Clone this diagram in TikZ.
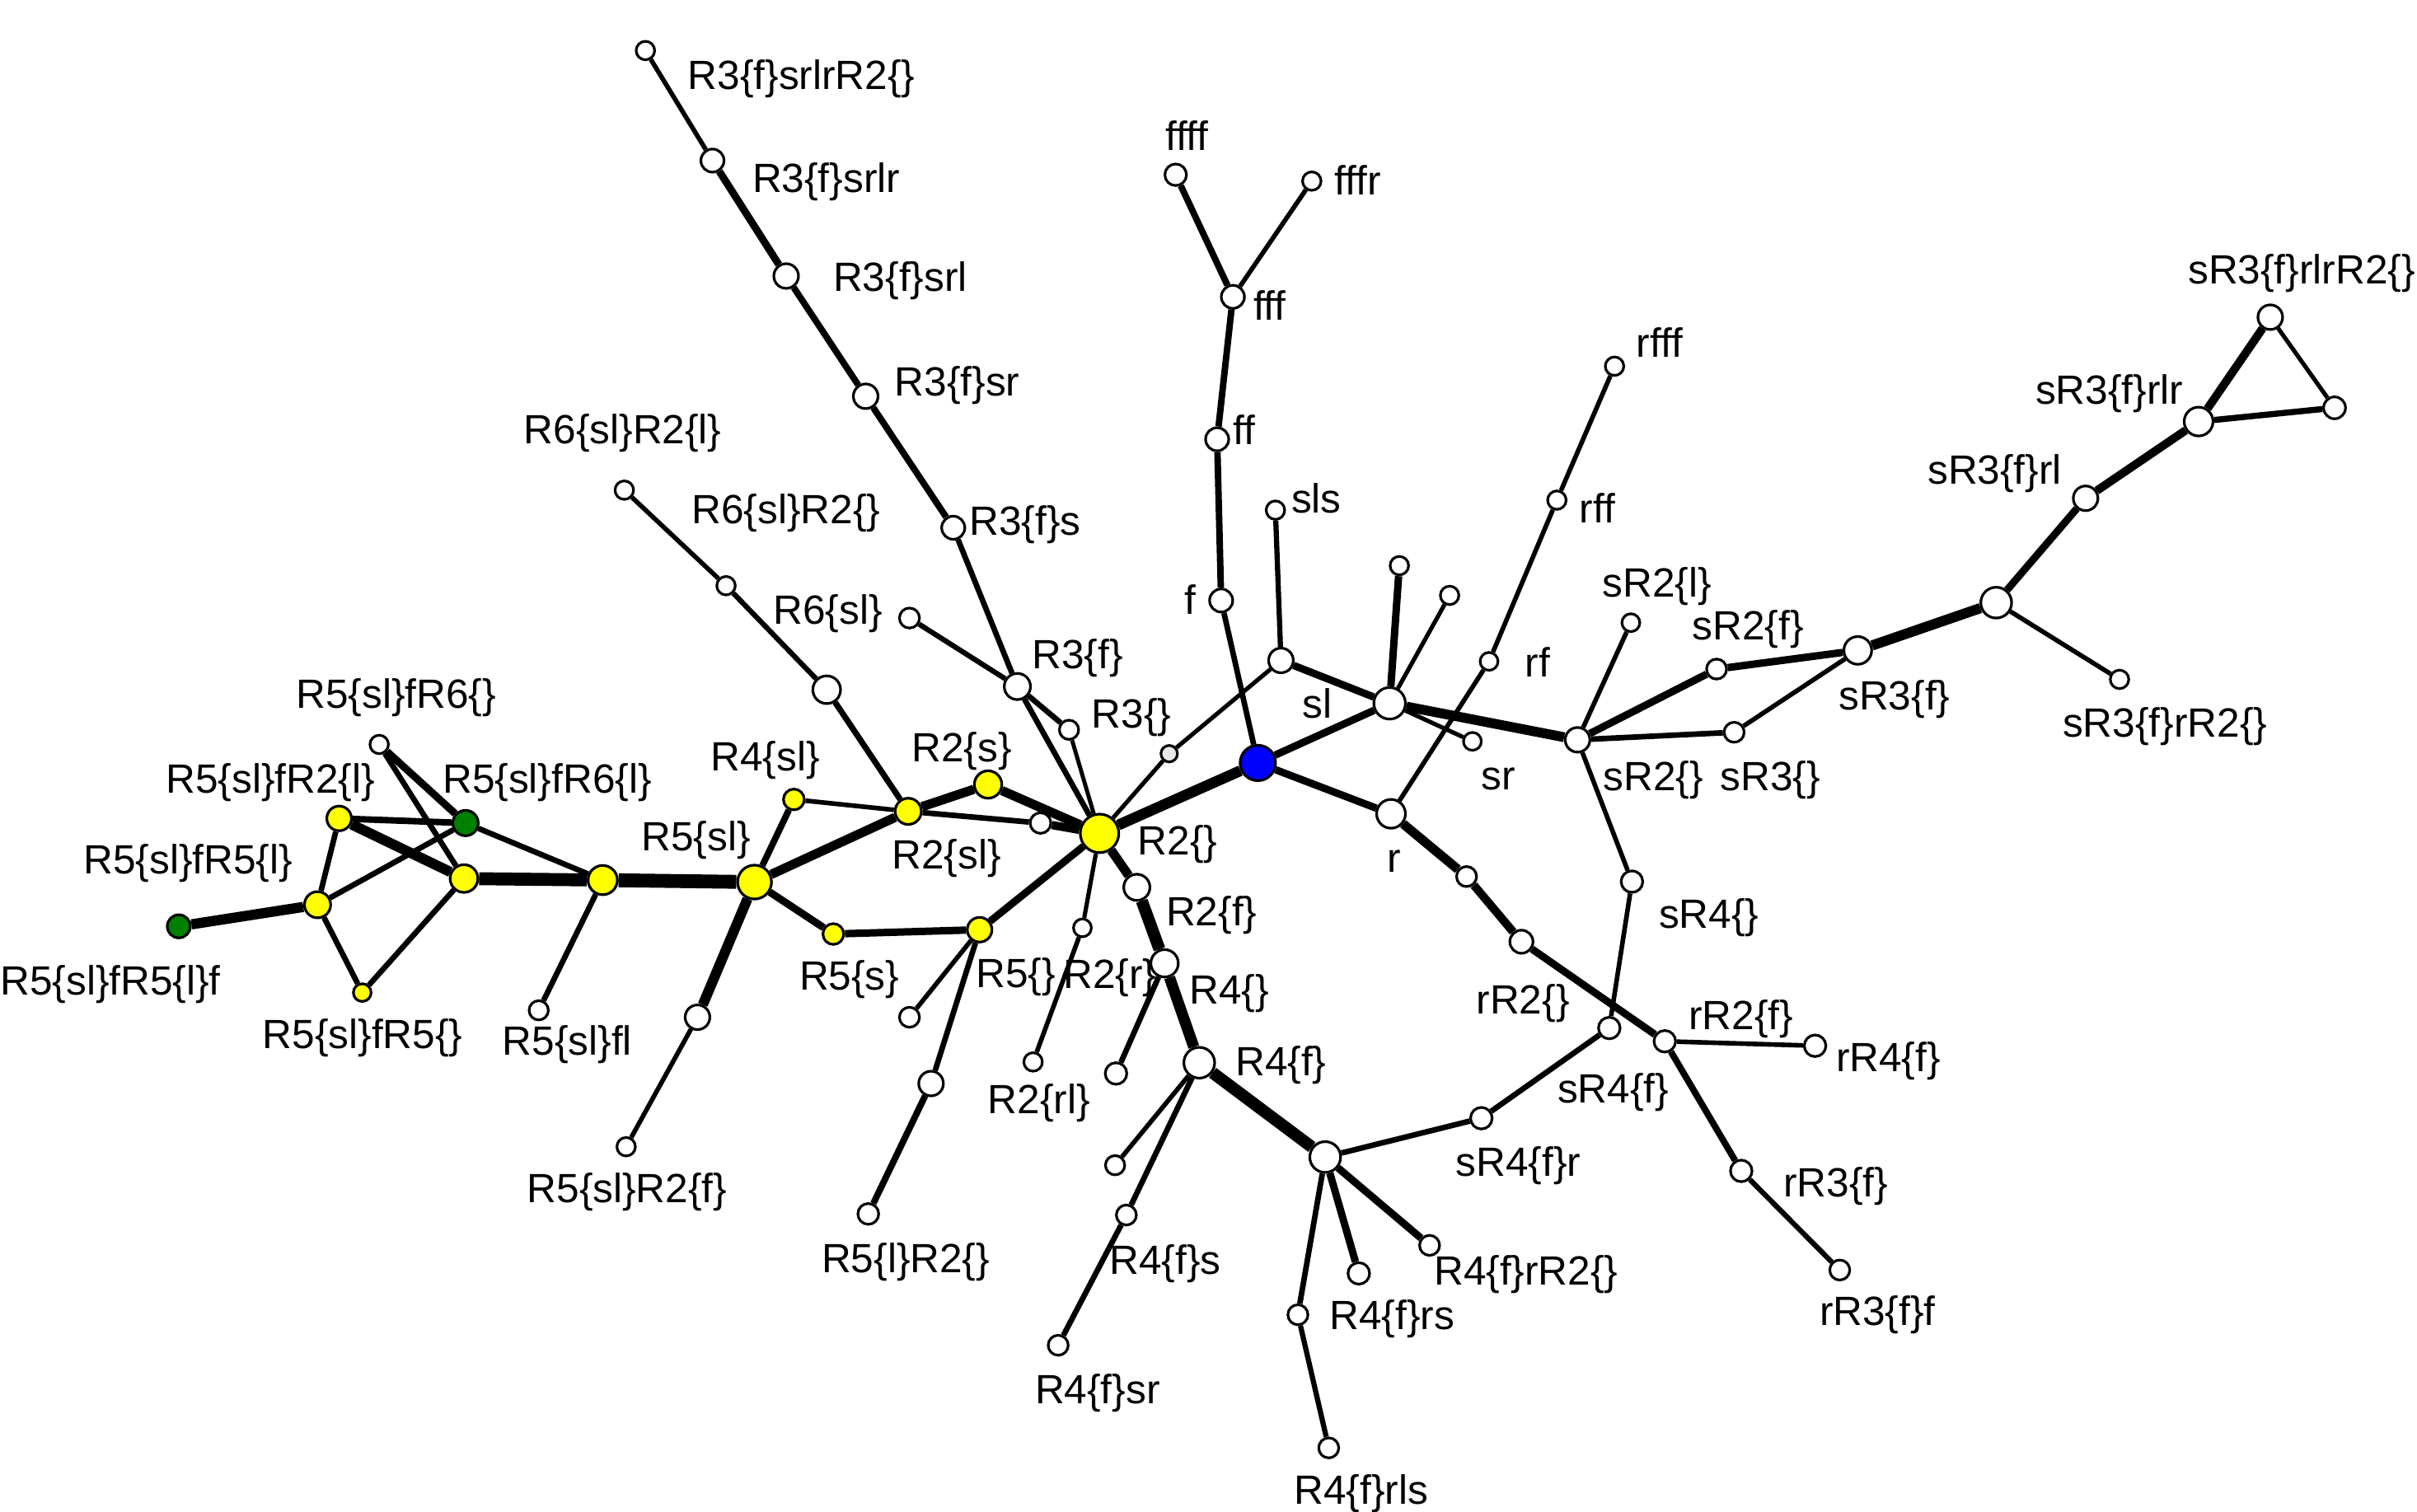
\documentclass[tikz,border=0pt]{standalone}
\usepackage{fontspec}
\setmainfont{Liberation Sans}
\definecolor{ngreen}{RGB}{0,128,0}
\definecolor{nblue}{RGB}{0,0,255}
\definecolor{nyellow}{RGB}{255,255,0}
\definecolor{ngrey}{RGB}{232,232,232}
\pgfdeclarelayer{bg}
\pgfsetlayers{bg,main}
\begin{document}
\begin{tikzpicture}[x=1pt,y=-1pt,
  nd/.style={circle,draw=black,line width=1.7pt,inner sep=0pt,fill=white,minimum size=#1},
  yl/.style={nd=#1,fill=nyellow},
  gn/.style={nd=#1,fill=ngreen},
  bl/.style={nd=#1,fill=nblue},
  gy/.style={nd=#1,fill=ngrey},
  lbl/.style={anchor=base,inner sep=0pt,font=\fontsize{26.5}{31}\selectfont},
  ew/.style={line width={1.2pt*#1}}]
\useasboundingbox (0,0) rectangle (1568,981);
% ---------- nodes ----------
\node[nd=12]  (a1) at (246,483) {};
\node[yl=16]  (a2) at (220,531) {};
\node[gn=16.5](a3) at (302,534) {};
\node[yl=17]  (a4) at (206,587) {};
\node[yl=18]  (a5) at (301,570) {};
\node[yl=19]  (a6) at (391,571) {};
\node[gn=15]  (a7) at (116,601) {};
\node[yl=11.5](a8) at (235,644) {};
\node[nd=12.5](a9) at (349.5,655.5) {};
\node[yl=22]  (b1) at (489.5,572.3) {};
\node[yl=13.5](b2) at (515,518.7) {};
\node[yl=17]  (b3) at (589.2,526.4) {};
\node[yl=17.8](b4) at (641,509) {};
\node[nd=13.4](b5) at (675,534) {};
\node[yl=13.5](b6) at (540.6,606) {};
\node[yl=16]  (b7) at (635.5,603.2) {};
\node[nd=16]  (b8) at (452.5,660) {};
\node[nd=12]  (b9) at (406.2,744) {};
\node[nd=13]  (b10) at (590,660) {};
\node[nd=16]  (b11) at (604,703) {};
\node[nd=13.5](b12) at (563.3,787.6) {};
\node[nd=12]  (c1) at (405,318) {};
\node[nd=12]  (c2) at (471,380) {};
\node[nd=18]  (c3) at (536.3,447.5) {};
\node[nd=13]  (c4) at (590,401) {};
\node[nd=17]  (c5) at (660,445.4) {};
\node[nd=12.5](c6) at (693.5,473.5) {};
\node[nd=15]  (c7) at (618.4,342.4) {};
\node[nd=16]  (c8) at (561.6,257.1) {};
\node[nd=16]  (c9) at (510,179.1) {};
\node[nd=15]  (c10) at (462.2,104.2) {};
\node[nd=12]  (c11) at (418.7,32.8) {};
\node[yl=25]  (d1) at (713.3,540.7) {};
\node[bl=23]  (d2) at (816,495) {};
\node[gy=10.7](d3) at (758.5,489) {};
\node[nd=11.6](d4) at (702.2,602) {};
\node[nd=12]  (d5) at (670.2,689) {};
\node[nd=17]  (d6) at (737.5,575.7) {};
\node[nd=17.8](d7) at (755.5,625) {};
\node[nd=14]  (d8) at (724,696.5) {};
\node[nd=20]  (d9) at (778,689.5) {};
\node[nd=12.5](d10) at (723.4,756) {};
\node[nd=13]  (d11) at (730.7,788.3) {};
\node[nd=13]  (d12) at (686.5,872.8) {};
\node[nd=20]  (d13) at (859.7,750.7) {};
\node[nd=13]  (d14) at (927.4,808) {};
\node[nd=14]  (d15) at (881.5,826.2) {};
\node[nd=13]  (d16) at (842,853) {};
\node[nd=13]  (d17) at (862,939.4) {};
\node[nd=14]  (d18) at (961,725.5) {};
\node[nd=15]  (e1) at (792.2,389.6) {};
\node[nd=15]  (e2) at (789.6,285) {};
\node[nd=15]  (e3) at (799.8,192.6) {};
\node[nd=14]  (e4) at (762.7,113.4) {};
\node[nd=12]  (e5) at (851,117.5) {};
\node[nd=12]  (e6) at (827.4,331) {};
\node[nd=16]  (e7) at (831,428.5) {};
\node[nd=20.5](e8) at (901.5,456.3) {};
\node[nd=12]  (e9) at (907.8,367) {};
\node[nd=12]  (e10) at (940.4,386.3) {};
\node[nd=11.6](e11) at (955.2,481) {};
\node[nd=18.7](e12) at (902.4,528) {};
\node[nd=11.6](e13) at (966,429.1) {};
\node[nd=12]  (e14) at (1010,324.5) {};
\node[nd=12]  (e15) at (1047.4,237.6) {};
\node[nd=16]  (f1) at (1023.4,480) {};
\node[nd=11.6](f2) at (1058,404) {};
\node[nd=13]  (f3) at (1113.6,434.1) {};
\node[nd=13]  (f4) at (1125,475.1) {};
\node[nd=18]  (f5) at (1205.2,422) {};
\node[nd=20]  (f6) at (1295,391) {};
\node[nd=12]  (f7) at (1375,440.8) {};
\node[nd=16]  (f8) at (1353,323.3) {};
\node[nd=18.7](f9) at (1426.3,273.5) {};
\node[nd=16]  (f10) at (1472.8,205.8) {};
\node[nd=14.2](f11) at (1514.5,264.6) {};
\node[nd=14]  (f12) at (1058.7,572) {};
\node[nd=14]  (f13) at (1044,667) {};
\node[nd=13]  (g1) at (951.4,568.7) {};
\node[nd=15]  (g2) at (987,611) {};
\node[nd=14]  (g3) at (1080,675.6) {};
\node[nd=14]  (g4) at (1177.5,678.5) {};
\node[nd=14]  (g5) at (1129.6,759.7) {};
\node[nd=13]  (g6) at (1193.5,824) {};
% ---------- edges ----------
\begin{pgfonlayer}{bg}
\draw[ew=4]   (a1) -- (a3);
\draw[ew=3]   (a1) -- (a5);
\draw[ew=3.5] (a2) -- (a3);
\draw[ew=5.5] (a2) -- (a5);
\draw[ew=3]   (a2) -- (a4);
\draw[ew=3]   (a4) -- (a3);
\draw[ew=3]   (a3) -- (a6);
\draw[ew=7]   (a5) -- (a6);
\draw[ew=5.5] (a4) -- (a7);
\draw[ew=3]   (a4) -- (a8);
\draw[ew=3]   (a5) -- (a8);
\draw[ew=3]   (a6) -- (a9);
\draw[ew=7.5] (a6) -- (b1);
\draw[ew=3.5] (b1) -- (b2);
\draw[ew=2.5] (b2) -- (b3);
\draw[ew=5]   (b1) -- (b3);
\draw[ew=5]   (b3) -- (b4);
\draw[ew=5]   (b4) -- (d1);
\draw[ew=3]   (b3) -- (b5);
\draw[ew=4.5] (b5) -- (d1);
\draw[ew=4]   (b1) -- (b6);
\draw[ew=4]   (b6) -- (b7);
\draw[ew=4]   (b7) -- (d1);
\draw[ew=5.5] (b1) -- (b8);
\draw[ew=2.5] (b8) -- (b9);
\draw[ew=2.5] (b7) -- (b10);
\draw[ew=3]   (b7) -- (b11);
\draw[ew=3.5] (b11) -- (b12);
\draw[ew=2.5] (c1) -- (c2);
\draw[ew=2.8] (c2) -- (c3);
\draw[ew=3.2] (c3) -- (b3);
\draw[ew=2.8] (c4) -- (c5);
\draw[ew=3]   (c5) -- (c6);
\draw[ew=2.2] (c6) -- (d1);
\draw[ew=3]   (c5) -- (d1);
\draw[ew=3]   (c7) -- (c5);
\draw[ew=3.5] (c8) -- (c7);
\draw[ew=3.5] (c9) -- (c8);
\draw[ew=4]   (c10) -- (c9);
\draw[ew=2.5] (c11) -- (c10);
\draw[ew=5.8] (d1) -- (d2);
\draw[ew=2.3] (d1) -- (d3);
\draw[ew=2.3] (d3) -- (e7);
\draw[ew=2.3] (d1) -- (d4);
\draw[ew=2.5] (d4) -- (d5);
\draw[ew=5]   (d1) -- (d6);
\draw[ew=6.5] (d6) -- (d7);
\draw[ew=6]   (d7) -- (d9);
\draw[ew=3]   (d7) -- (d8);
\draw[ew=2.5] (d9) -- (d10);
\draw[ew=3]   (d9) -- (d11);
\draw[ew=3]   (d11) -- (d12);
\draw[ew=6.5] (d9) -- (d13);
\draw[ew=3]   (d13) -- (d18);
\draw[ew=3]   (d18) -- (f13);
\draw[ew=4]   (d13) -- (d14);
\draw[ew=4]   (d13) -- (d15);
\draw[ew=3]   (d13) -- (d16);
\draw[ew=2.8] (d16) -- (d17);
\draw[ew=3.5] (e4) -- (e3);
\draw[ew=2.5] (e5) -- (e3);
\draw[ew=3.5] (e3) -- (e2);
\draw[ew=3.5] (e2) -- (e1);
\draw[ew=3]   (e1) -- (d2);
\draw[ew=2.8] (e6) -- (e7);
\draw[ew=4]   (e7) -- (e8);
\draw[ew=4]   (d2) -- (e8);
\draw[ew=4]   (e9) -- (e8);
\draw[ew=2.3] (e10) -- (e8);
\draw[ew=2.3] (e8) -- (e11);
\draw[ew=5.3] (e8) -- (f1);
\draw[ew=4]   (d2) -- (e12);
\draw[ew=2.5] (e12) -- (e13);
\draw[ew=2.5] (e13) -- (e14);
\draw[ew=2.5] (e14) -- (e15);
\draw[ew=5]   (e12) -- (g1);
\draw[ew=4.5] (g1) -- (g2);
\draw[ew=4]   (g2) -- (g3);
\draw[ew=2.5] (g3) -- (g4);
\draw[ew=3.5] (g3) -- (g5);
\draw[ew=2.8] (g5) -- (g6);
\draw[ew=2.5] (f1) -- (f2);
\draw[ew=4]   (f1) -- (f3);
\draw[ew=4]   (f3) -- (f5);
\draw[ew=3]   (f1) -- (f4);
\draw[ew=2.5] (f4) -- (f5);
\draw[ew=5.5] (f5) -- (f6);
\draw[ew=2.5] (f6) -- (f7);
\draw[ew=4]   (f6) -- (f8);
\draw[ew=4.5] (f8) -- (f9);
\draw[ew=4.5] (f9) -- (f10);
\draw[ew=2.3] (f10) -- (f11);
\draw[ew=3.3] (f9) -- (f11);
\draw[ew=2.5] (f1) -- (f12);
\draw[ew=2.5] (f12) -- (f13);
\end{pgfonlayer}
% ---------- labels ----------
\node[lbl] (t1) at (520,58) {R3\{f\}srlrR2\{\}};
\node[lbl] (t2) at (536,125) {R3\{f\}srlr};
\node[lbl] (t3) at (584,189) {R3\{f\}srl};
\node[lbl] (t4) at (621,257) {R3\{f\}sr};
\node[lbl] (t5) at (404,288) {R6\{sl\}R2\{l\}};
\node[lbl] (t6) at (510,340) {R6\{sl\}R2\{\}};
\node[lbl] (t7) at (665,347) {R3\{f\}s};
\node[lbl] (t8) at (537,405) {R6\{sl\}};
\node[lbl] (t9) at (699,434) {R3\{f\}};
\node[lbl] (t10) at (734,472.5) {R3\{\}};
\node[lbl] (t11) at (624,494.5) {R2\{s\}};
\node[lbl] (t12) at (496.5,500) {R4\{sl\}};
\node[lbl] (t13) at (451.5,552) {R5\{sl\}};
\node[lbl] (t14) at (614,564) {R2\{sl\}};
\node[lbl] (t15) at (551,642.5) {R5\{s\}};
\node[lbl] (t16) at (659,640.5) {R5\{\}};
\node[lbl] (t17) at (720,641.5) {R2\{r\}};
\node[lbl] (t18) at (764,554.5) {R2\{\}};
\node[lbl] (t19) at (786,600.5) {R2\{f\}};
\node[lbl] (t20) at (797.4,651.5) {R4\{\}};
\node[lbl] (t21) at (674,722.5) {R2\{rl\}};
\node[lbl] (t22) at (831,698) {R4\{f\}};
\node[lbl] (t23) at (756,826.5) {R4\{f\}s};
\node[lbl] (t24) at (712,910.5) {R4\{f\}sr};
\node[lbl] (t25) at (903,862.7) {R4\{f\}rs};
\node[lbl] (t26) at (990,833.5) {R4\{f\}rR2\{\}};
\node[lbl] (t27) at (883,976) {R4\{f\}rls};
\node[lbl] (t28) at (985,763.4) {sR4\{f\}r};
\node[lbl] (t29) at (988,658) {rR2\{\}};
\node[lbl] (t30) at (1046.5,715.7) {sR4\{f\}};
\node[lbl] (t31) at (1108.6,602) {sR4\{\}};
\node[lbl] (t32) at (1129.5,668) {rR2\{f\}};
\node[lbl] (t33) at (1225,695.3) {rR4\{f\}};
\node[lbl] (t34) at (1191,776.5) {rR3\{f\}};
\node[lbl] (t35) at (1218,860) {rR3\{f\}f};
\node[lbl] (t36) at (587.6,825.5) {R5\{l\}R2\{\}};
\node[lbl] (t37) at (406.8,780) {R5\{sl\}R2\{f\}};
\node[lbl] (t38) at (368,684.8) {R5\{sl\}fl};
\node[lbl] (t39) at (235.3,680.3) {R5\{sl\}fR5\{\}};
\node[lbl,anchor=base west] (t40) at (0,645.5) {R5\{sl\}fR5\{l\}f};
\node[lbl] (t41) at (122,567) {R5\{sl\}fR5\{l\}};
\node[lbl] (t42) at (175.5,514.6) {R5\{sl\}fR2\{l\}};
\node[lbl] (t43) at (355,514.6) {R5\{sl\}fR6\{l\}};
\node[lbl] (t44) at (257,459.3) {R5\{sl\}fR6\{\}};
\node[lbl] (t45) at (770,97.8) {ffff};
\node[lbl] (t46) at (881,126.4) {fffr};
\node[lbl] (t47) at (823.7,207.6) {fff};
\node[lbl] (t48) at (807,288.6) {ff};
\node[lbl] (t49) at (854,333) {sls};
\node[lbl] (t50) at (1076.6,231.8) {rfff};
\node[lbl] (t51) at (1036.3,339.2) {rff};
\node[lbl] (t52) at (772,398.5) {f};
\node[lbl] (t53) at (854.5,466) {sl};
\node[lbl] (t54) at (972.2,512.3) {sr};
\node[lbl] (t55) at (997.5,439.3) {rf};
\node[lbl] (t56) at (904.5,565.8) {r};
\node[lbl] (t57) at (1075,387.2) {sR2\{l\}};
\node[lbl] (t58) at (1134,415) {sR2\{f\}};
\node[lbl] (t59) at (1229,460.3) {sR3\{f\}};
\node[lbl] (t60) at (1404.5,478) {sR3\{f\}rR2\{\}};
\node[lbl] (t61) at (1294,314) {sR3\{f\}rl};
\node[lbl] (t62) at (1368.4,262) {sR3\{f\}rlr};
\node[lbl,anchor=base east] (t63) at (1567,184) {sR3\{f\}rlrR2\{\}};
\node[lbl] (t64) at (1072.6,513) {sR2\{\}};
\node[lbl] (t65) at (1148.4,513) {sR3\{\}};
\end{tikzpicture}
\end{document}
